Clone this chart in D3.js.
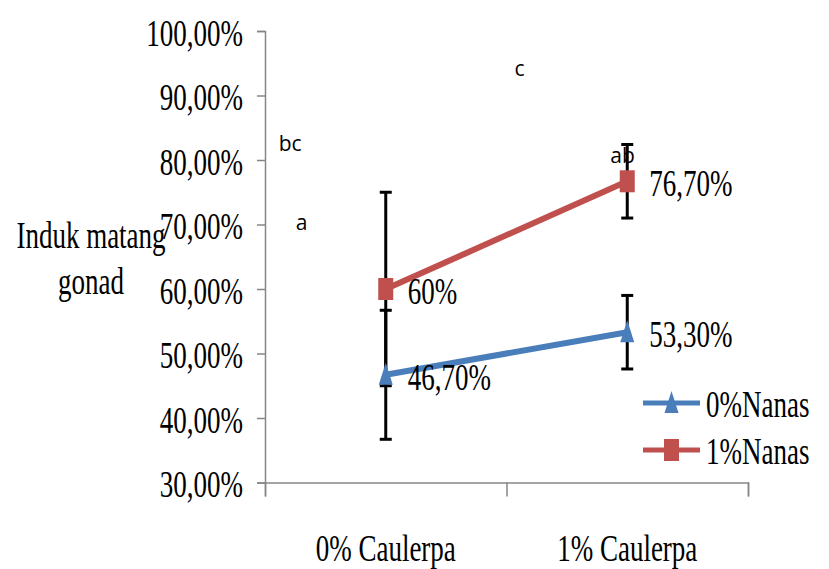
<!DOCTYPE html>
<html>
<head>
<meta charset="utf-8">
<script src="https://cdn.jsdelivr.net/npm/d3@7"></script>
<style>
  body { margin: 0; background: #fff; }
  .serif { font-family: "Liberation Serif", "Times New Roman", serif; font-size: 37px; fill: #000; }
  .letter { font-family: "Open Sans", "Noto Sans", sans-serif; font-size: 21px; fill: #000; }
</style>
</head>
<body>
<div class="chart"></div>
<script>
// Data
var categories = ["0% Caulerpa", "1% Caulerpa"];
var seriesNames = ["0%Nanas", "1%Nanas"];
var nanas0 = [0.467, 0.533];
var nanas1 = [0.60, 0.767];
var err0 = [0.10, 0.057];
var err1 = [0.15, 0.057];
var labels0 = ["46,70%", "53,30%"];
var labels1 = ["60%", "76,70%"];
var yTicks = [0.3, 0.4, 0.5, 0.6, 0.7, 0.8, 0.9, 1.0];
// significance letters: text, value they sit at
var letters = ["bc", "a", "c", "ab"];
var letterValues = [0.814, 0.692, 0.93, 0.795];

var svgWidth = 829;
var svgHeight = 569;
var margin = { top: 31, right: 81, bottom: 86.5, left: 265 };
var width = svgWidth - margin.left - margin.right;
var height = svgHeight - margin.top - margin.bottom;
var squeeze = 0.73; // the serif text is narrow in the picture

var blue = "#4a7ebb";
var red = "#c0504d";

var svg = d3.select(".chart").append("svg")
  .attr("width", svgWidth)
  .attr("height", svgHeight)
  .style("display", "block");

var chart = svg.append("g")
  .attr("transform", "translate(" + margin.left + "," + margin.top + ")");

var x = d3.scaleBand().domain(categories).range([0, width]);
var xEdges = d3.scaleLinear().domain([0, categories.length]).range([0, width]);
var y = d3.scaleLinear().domain([0.3, 1.0]).range([height, 0]);

var fmt = function(v) { return (v * 100).toFixed(2).replace(".", ",") + "%"; };

// y axis
var yAxis = chart.append("g")
  .call(d3.axisLeft(y).tickValues(yTicks).tickSize(8).tickFormat(fmt));
yAxis.select(".domain").attr("stroke", "#868686").attr("stroke-width", 1.5);
yAxis.selectAll(".tick line").attr("stroke", "#868686").attr("stroke-width", 1.5);
yAxis.selectAll(".tick text")
  .attr("class", "serif")
  .attr("x", null).attr("dy", null)
  .attr("transform", "translate(-22,14) scale(" + squeeze + ",1)")
  .style("text-anchor", "end");
yAxis.attr("font-size", null).attr("font-family", null);

// x axis: ticks on the band edges, labels in the middle
var xAxis = chart.append("g")
  .attr("transform", "translate(0," + height + ")")
  .call(d3.axisBottom(xEdges).ticks(categories.length).tickSize(14).tickSizeOuter(14).tickFormat(""));
xAxis.select(".domain").attr("stroke", "#868686").attr("stroke-width", 1.5);
xAxis.selectAll(".tick line").attr("stroke", "#868686").attr("stroke-width", 1.5);

chart.selectAll(".xlab")
  .data(categories)
  .enter().append("text")
  .attr("class", "serif")
  .attr("text-anchor", "middle")
  .attr("transform", function(d) {
    return "translate(" + (x(d) + x.bandwidth() / 2) + "," + (height + 78) + ") scale(" + squeeze + ",1)";
  })
  .text(function(d) { return d; });

// y axis title
var title = svg.append("text")
  .attr("class", "serif")
  .attr("text-anchor", "middle")
  .attr("transform", "translate(91,248) scale(" + squeeze + ",1)");
title.append("tspan").attr("x", 0).attr("y", 0).text("Induk matang");
title.append("tspan").attr("x", 0).attr("y", 46).text("gonad");

var cx = function(i) { return x(categories[i]) + x.bandwidth() / 2; };

var series = [
  { name: seriesNames[0], values: nanas0, errs: err0, labels: labels0, color: blue, marker: "tri" },
  { name: seriesNames[1], values: nanas1, errs: err1, labels: labels1, color: red, marker: "sq" }
];

var line = d3.line()
  .x(function(d, i) { return cx(i); })
  .y(function(d) { return y(d); });

// error bars
series.forEach(function(s) {
  var g = chart.append("g").attr("stroke", "#000").attr("stroke-width", 3);
  s.values.forEach(function(v, i) {
    g.append("line").attr("x1", cx(i)).attr("x2", cx(i))
      .attr("y1", y(v + s.errs[i])).attr("y2", y(v - s.errs[i]));
    [v + s.errs[i], v - s.errs[i]].forEach(function(e) {
      g.append("line").attr("x1", cx(i) - 6).attr("x2", cx(i) + 6)
        .attr("y1", y(e)).attr("y2", y(e));
    });
  });
});

function drawMarker(g, type, px, py, color) {
  if (type === "sq") {
    g.append("rect").attr("x", px - 7.5).attr("y", py - 11).attr("width", 15).attr("height", 22)
      .attr("fill", color);
  } else {
    g.append("path")
      .attr("d", "M" + px + "," + (py - 12) + "L" + (px + 7) + "," + (py + 10) + "L" + (px - 7) + "," + (py + 10) + "Z")
      .attr("fill", color);
  }
}

// lines, markers, value labels
series.forEach(function(s) {
  chart.append("path")
    .datum(s.values)
    .attr("d", line)
    .attr("fill", "none")
    .attr("stroke", s.color)
    .attr("stroke-width", 6);
  var mg = chart.append("g");
  s.values.forEach(function(v, i) {
    drawMarker(mg, s.marker, cx(i), y(v), s.color);
  });
  chart.selectAll(null)
    .data(s.values)
    .enter().append("text")
    .attr("class", "serif")
    .attr("transform", function(d, i) {
      return "translate(" + (cx(i) + 22) + "," + (y(d) + 15) + ") scale(" + squeeze + ",1)";
    })
    .text(function(d, i) { return s.labels[i]; });
});

// significance letters
var letterX = [cx(0) - 107, cx(0) - 90, xEdges(1) + 8, cx(1) - 17];
chart.selectAll(".letter")
  .data(letters)
  .enter().append("text")
  .attr("class", "letter")
  .attr("x", function(d, i) { return letterX[i]; })
  .attr("y", function(d, i) { return y(letterValues[i]); })
  .text(function(d) { return d; });

// legend
var legend = svg.append("g").attr("transform", "translate(643,403)");
series.forEach(function(s, i) {
  var g = legend.append("g").attr("transform", "translate(0," + (i * 47) + ")");
  g.append("line").attr("x1", 0).attr("x2", 57).attr("y1", 0).attr("y2", 0)
    .attr("stroke", s.color).attr("stroke-width", 5);
  drawMarker(g, s.marker, 28.5, 0, s.color);
  g.append("text")
    .attr("class", "serif")
    .attr("transform", "translate(63,14) scale(" + squeeze + ",1)")
    .text(s.name);
});
</script>
</body>
</html>
